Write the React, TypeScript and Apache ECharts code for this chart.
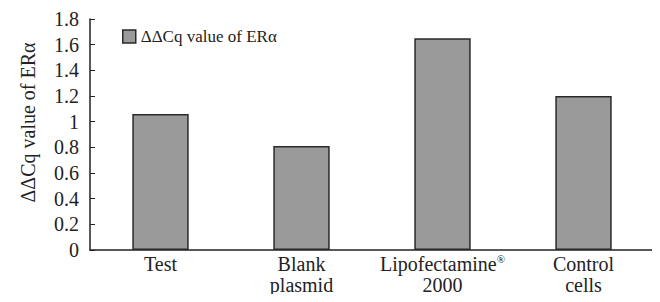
import React, { useEffect, useRef } from "react";
import * as echarts from "echarts";

const categories = ["Test", "Blank\nplasmid", "Lipofectamine®\n2000", "Control\ncells"];
const values = [1.06, 0.81, 1.65, 1.2];
const seriesName = "ΔΔCq value of ERα";
const yAxisName = "ΔΔCq value of ERα";

export default function App() {
  const ref = useRef<HTMLDivElement>(null);
  useEffect(() => {
    const chart = echarts.init(ref.current!, null, { renderer: "svg" });
    const font = "Liberation Serif";
    chart.setOption({
      animation: false,
      backgroundColor: "#ffffff",
      textStyle: { fontFamily: font },
      grid: { left: 90, right: 6, top: 19, bottom: 52, containLabel: false },
      legend: {
        left: 117,
        top: 23,
        itemWidth: 13,
        itemHeight: 13,
        itemGap: 4,
        itemStyle: { color: "#9a9a9a", borderColor: "#2a2a2a", borderWidth: 1.5 },
        textStyle: { fontFamily: font, fontSize: 17, color: "#222" },
        data: [{ name: seriesName, icon: "rect" }],
      },
      xAxis: {
        type: "category",
        data: categories,
        axisLine: { lineStyle: { color: "#222", width: 1.5 } },
        axisTick: { inside: true, length: 5, lineStyle: { color: "#222" } },
        axisLabel: {
          fontFamily: font,
          fontSize: 20,
          color: "#222",
          lineHeight: 21,
          margin: 3,
          interval: 0,
          formatter: (v: string) => v.replace("®", "{sup|®}"),
          rich: {
            sup: { fontFamily: font, fontSize: 11, verticalAlign: "top", color: "#222", lineHeight: 21, padding: [0, 0, 8, 0] },
          },
        },
      },
      yAxis: {
        type: "value",
        min: 0,
        max: 1.8,
        interval: 0.2,
        name: yAxisName,
        nameLocation: "middle",
        nameGap: 52,
        nameTextStyle: { fontFamily: font, fontSize: 20, color: "#222", padding: [0, 0, 0, 24] },
        axisLine: { show: true, lineStyle: { color: "#222", width: 1.5 } },
        axisTick: { show: true, inside: true, length: 5, lineStyle: { color: "#222" } },
        splitLine: { show: false },
        axisLabel: {
          fontFamily: font,
          fontSize: 20,
          color: "#222",
          margin: 11,
          formatter: (v: number) => String(Math.round(v * 10) / 10),
        },
      },
      series: [
        {
          name: seriesName,
          type: "bar",
          data: values,
          barWidth: "40%",
          itemStyle: { color: "#9a9a9a", borderColor: "#2a2a2a", borderWidth: 1.5 },
        },
      ],
    });
    return () => chart.dispose();
  }, []);
  return <div ref={ref} style={{ width: 660, height: 302, margin: -8 }} />;
}
